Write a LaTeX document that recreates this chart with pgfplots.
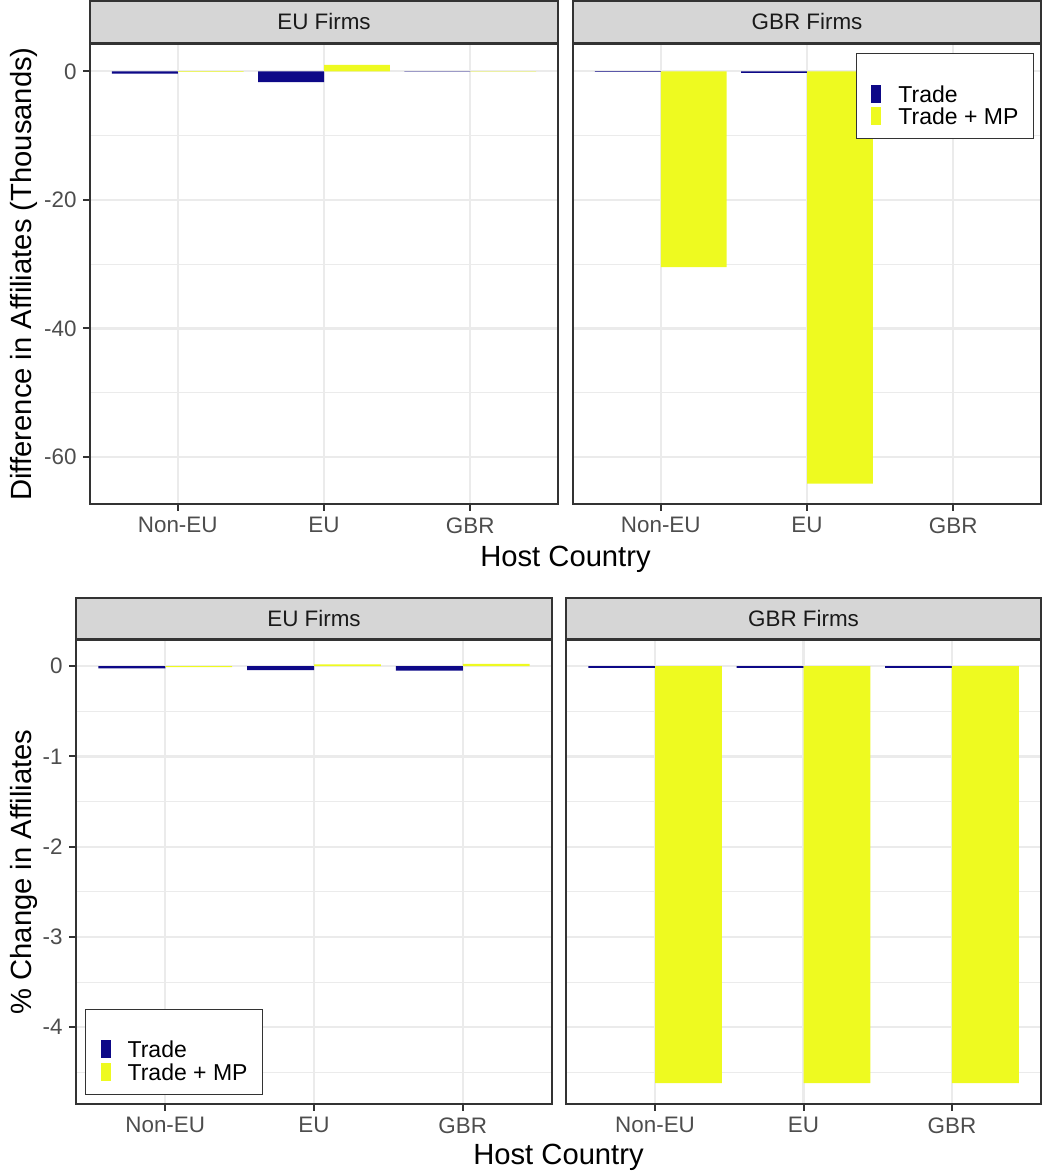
\documentclass[border=0pt]{standalone}
\usepackage{fontspec}
\setmainfont{Liberation Sans}
\usepackage{pgfplots}
\pgfplotsset{compat=1.18}

\definecolor{tradeblue}{HTML}{0D0887}
\definecolor{mpyellow}{HTML}{EEFA20}
\definecolor{gridgray}{HTML}{EBEBEB}
\definecolor{framegray}{HTML}{333333}
\definecolor{tickgray}{HTML}{4D4D4D}
\definecolor{stripgray}{HTML}{D6D6D6}
\definecolor{striptext}{HTML}{1A1A1A}

\newcommand{\ticksize}{\fontsize{11.2}{13.4}\selectfont}
\newcommand{\legsize}{\fontsize{11.5}{13.8}\selectfont}
\newcommand{\titlesize}{\fontsize{14.6}{17.5}\selectfont}

\pgfplotsset{
  facet/.style={
    scale only axis,
    xmin=0.4, xmax=3.6,
    xtick={1,2,3},
    xticklabels={Non-EU,EU,GBR},
    tick align=outside,
    tick pos=left,
    major tick length=3.5pt,
    minor tick length=0pt,
    every tick/.style={framegray, line width=1pt},
    axis line style={framegray, line width=1pt},
    xmajorgrids, ymajorgrids, yminorgrids,
    major grid style={gridgray, line width=1.1pt},
    minor grid style={gridgray, line width=0.55pt},
    ticklabel style={font=\ticksize, text=tickgray},
    xticklabel style={inner sep=0pt, yshift=-3pt},
    yticklabel style={inner sep=0pt, xshift=-3pt},
    every axis title/.style={at={(0.5,1)}, anchor=south, fill=stripgray,
      draw=framegray, line width=1pt, inner sep=0pt, minimum height=21pt,
      font=\ticksize, text=striptext},
    legend cell align=left,
    legend style={draw=framegray, line width=0.6pt, fill=white,
      font=\legsize, inner xsep=7.5pt, inner ysep=4.5pt,
      nodes={inner sep=0pt, text height=8.5pt, text depth=2.5pt},
      /tikz/every odd column/.append style={column sep=8.5pt}},
  },
  % right-hand facets share the y scale of their row: no y ticks of their own
  inner facet/.style={yticklabels={}, ytick style={draw=none}},
  tradebar/.style={ybar, bar width=0.45, bar shift=-0.225, fill=tradeblue, draw=none,
    legend image code/.code={\fill[tradeblue] (0pt,-3.25pt) rectangle (5pt,5.75pt);}},
  mpbar/.style={ybar, bar width=0.45, bar shift=0.225, fill=mpyellow, draw=none,
    legend image code/.code={\fill[mpyellow] (0pt,-3.25pt) rectangle (5pt,5.75pt);}},
  levels/.style={ymin=-67.3, ymax=4.25,
    ytick={-60,-40,-20,0}, yticklabels={-60,-40,-20,0},
    minor ytick={-50,-30,-10}},
  shares/.style={ymin=-4.85, ymax=0.29,
    ytick={-4,-3,-2,-1,0}, yticklabels={-4,-3,-2,-1,0},
    minor ytick={-4.5,-3.5,-2.5,-1.5,-0.5}},
}

\begin{document}
\begin{tikzpicture}
\useasboundingbox (0,0) rectangle (522.5pt,588pt);

% ---- Difference in affiliates (thousands) ----
\begin{axis}[facet, levels, at={(45pt,336pt)}, anchor=south west,
  width=234pt, height=230pt, title={EU Firms},
  every axis title/.append style={minimum width=234pt}]
  \addplot[tradebar] coordinates {(1,-0.35) (2,-1.7) (3,-0.06)};
  \addplot[mpbar] coordinates {(1,-0.1) (2,1.0) (3,-0.06)};
\end{axis}

\begin{axis}[facet, levels, inner facet, at={(286.5pt,336pt)}, anchor=south west,
  width=234pt, height=230pt, title={GBR Firms},
  every axis title/.append style={minimum width=234pt},
  legend style={at={(1,1)}, anchor=north east, xshift=-3.5pt, yshift=-4.5pt}]
  \addlegendimage{empty legend}\addlegendentry{}
  \addplot[tradebar] coordinates {(1,-0.1) (2,-0.25)};
  \addlegendentry{Trade}
  \addplot[mpbar] coordinates {(1,-30.45) (2,-64.15)};
  \addlegendentry{Trade + MP}
\end{axis}

% ---- Percentage change in affiliates ----
\begin{axis}[facet, shares, at={(38pt,36pt)}, anchor=south west,
  width=238pt, height=232pt, title={EU Firms},
  every axis title/.append style={minimum width=238pt, minimum height=20.5pt},
  legend style={at={(0,0)}, anchor=south west, xshift=4.5pt, yshift=4.5pt}]
  \addlegendimage{empty legend}\addlegendentry{}
  \addplot[tradebar] coordinates {(1,-0.025) (2,-0.045) (3,-0.05)};
  \addlegendentry{Trade}
  \addplot[mpbar] coordinates {(1,-0.01) (2,0.02) (3,0.025)};
  \addlegendentry{Trade + MP}
\end{axis}

\begin{axis}[facet, shares, inner facet, at={(283pt,36pt)}, anchor=south west,
  width=237.5pt, height=232pt, title={GBR Firms},
  every axis title/.append style={minimum width=237.5pt, minimum height=20.5pt}]
  \addplot[tradebar] coordinates {(1,-0.02) (2,-0.02) (3,-0.02)};
  \addplot[mpbar] coordinates {(1,-4.62) (2,-4.62) (3,-4.62)};
\end{axis}

% axis titles
\node[rotate=90, anchor=base, font=\titlesize] at (15.85pt,451pt) {Difference in Affiliates (Thousands)};
\node[rotate=90, anchor=base, font=\titlesize] at (15.8pt,152pt) {\% Change in Affiliates};
\node[anchor=base, font=\titlesize] at (282.75pt,304.6pt) {Host Country};
\node[anchor=base, font=\titlesize] at (279.25pt,5.5pt) {Host Country};
\end{tikzpicture}
\end{document}
